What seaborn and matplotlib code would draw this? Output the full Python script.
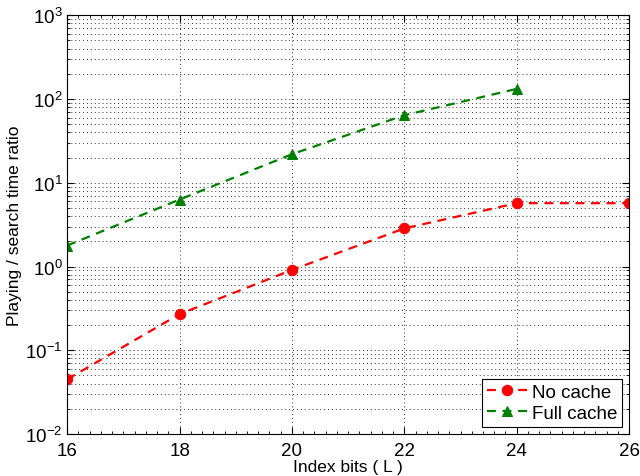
import numpy as np
import pandas as pd
import seaborn as sns
import matplotlib
matplotlib.use("Agg")
import matplotlib.pyplot as plt
from matplotlib.ticker import LogLocator, MultipleLocator, NullFormatter

# values (log scale)
bits_no_cache = [16, 18, 20, 22, 24, 26]
ratio_no_cache = [0.045, 0.27, 0.91, 2.85, 5.7, 5.7]
bits_full_cache = [16, 18, 20, 22, 24]
ratio_full_cache = [1.78, 6.3, 21.9, 64, 132]

df = pd.concat([
    pd.DataFrame({"L": bits_no_cache, "ratio": ratio_no_cache, "mode": "No cache"}),
    pd.DataFrame({"L": bits_full_cache, "ratio": ratio_full_cache, "mode": "Full cache"}),
])

sns.set_style("ticks")
plt.rcParams['font.family'] = ['Liberation Sans', 'DejaVu Sans']
plt.rcParams['mathtext.fontset'] = 'custom'
plt.rcParams['mathtext.rm'] = 'Liberation Sans'
for k in ['text.color', 'axes.labelcolor', 'xtick.color', 'ytick.color']:
    plt.rcParams[k] = 'black'

fig, ax = plt.subplots(figsize=(6.4, 4.77), dpi=100)
fig.subplots_adjust(left=0.105, right=0.983, top=0.966, bottom=0.088)

colors = {"No cache": "#ff0000", "Full cache": "#008000"}
markers = {"No cache": "o", "Full cache": "^"}
for mode in ["No cache", "Full cache"]:
    sub = df[df["mode"] == mode]
    sns.lineplot(data=sub, x="L", y="ratio", ax=ax, color=colors[mode],
                 marker=markers[mode], markersize=7.5, markeredgecolor=colors[mode],
                 linestyle=(0, (4, 3)), linewidth=1.6, label=mode)

ax.set_yscale("log")
ax.set_xlim(16, 26)
ax.set_ylim(1e-2, 1e3)
ax.set_xticks([16, 18, 20, 22, 24, 26])
ax.xaxis.set_minor_locator(MultipleLocator(0.2))
ax.yaxis.set_major_locator(LogLocator(base=10, numticks=10))
ax.yaxis.set_minor_locator(LogLocator(base=10, subs=np.arange(2, 10), numticks=20))
ax.yaxis.set_minor_formatter(NullFormatter())

ax.grid(True, which="major", axis="both", linestyle=(0, (1, 3)), color="#333333", linewidth=0.7)
ax.grid(True, which="minor", axis="y", linestyle=(0, (1, 3)), color="#333333", linewidth=0.7)

for s in ax.spines.values():
    s.set_visible(True)
    s.set_color("black")
    s.set_linewidth(0.8)
ax.tick_params(which="major", direction="in", length=5, labelsize=13.5, top=True, right=True, width=0.8)
ax.tick_params(axis="x", which="major", pad=6)
ax.tick_params(which="minor", direction="in", length=2.5, top=True, right=True, width=0.6)

ax.set_xlabel("Index bits ( L )", fontsize=12.5, labelpad=0)
ax.set_ylabel("Playing / search time ratio", fontsize=12.5, labelpad=2)

leg = ax.legend(loc="lower right", fontsize=13.5, frameon=True, fancybox=False,
                edgecolor="black", framealpha=1, borderaxespad=0.4,
                handlelength=2.2, handletextpad=0.2, borderpad=0.25, labelspacing=0.2)
leg.get_frame().set_linewidth(0.8)

fig.savefig("out.png", dpi=100)
